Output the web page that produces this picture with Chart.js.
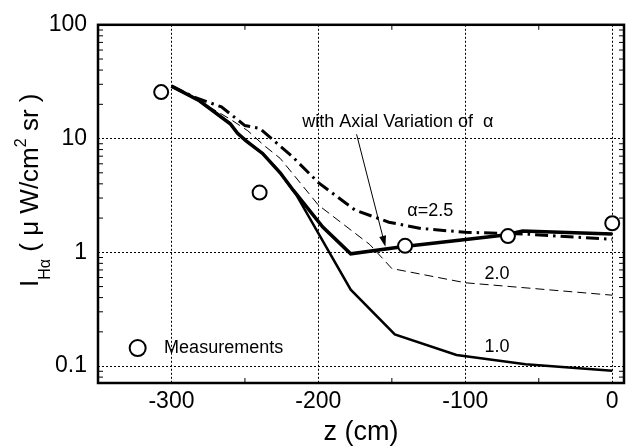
<!DOCTYPE html>
<html>
<head>
<meta charset="utf-8">
<script src="https://cdn.jsdelivr.net/npm/chart.js@4.4.0/dist/chart.umd.min.js"></script>
<style>
html, body { margin: 0; padding: 0; background: #fff; }
</style>
</head>
<body>
<canvas id="cvHalpha" width="633" height="446"></canvas>
<script>
const cvHalpha = document.getElementById('cvHalpha')

// measured H-alpha intensity
const zMeas = [-307, -240, -141, -71, 0]
const iMeas = [25.6, 3.35, 1.14, 1.39, 1.8]

// calculation with axial variation of alpha
const zAxial = [-300, -281, -260, -255, -249, -238, -226, -217, -197, -178, -143, -73, -61, 0]
const iAxial = [28.9, 21.5, 13.5, 11.1, 9.5, 7.4, 5.0, 3.5, 1.67, 0.97, 1.12, 1.42, 1.54, 1.45]

// fixed alpha = 1.0, 2.0, 2.5
const zA10 = [-300, -281, -260, -255, -249, -238, -226, -215, -178, -148, -106, -59, 0]
const iA10 = [28.9, 21.5, 13.5, 11.1, 9.5, 7.4, 5.0, 3.2, 0.47, 0.19, 0.125, 0.104, 0.091]
const zA20 = [-300, -280, -260, -248, -237, -226, -200, -165, -150, -100, 0]
const iA20 = [28.9, 21, 14.8, 11.7, 8.7, 6.7, 2.6, 1.17, 0.72, 0.54, 0.42]
const zA25 = [-300, -284, -266, -250, -240, -230, -218, -200, -175, -152, -130, -100, -60, 0]
const iA25 = [28.9, 23, 19, 13, 12.3, 9.5, 7.0, 4.1, 2.35, 1.84, 1.62, 1.5, 1.45, 1.3]

const xTicks = [-300, -200, -100, 0]
const xMinor = [-250, -150, -50]
const yTicks = [0.1, 1, 10, 100]
const yMinor = [0.08, 0.09, 0.2, 0.3, 0.4, 0.5, 0.6, 0.7, 0.8, 0.9, 2, 3, 4, 5, 6, 7, 8, 9, 20, 30, 40, 50, 60, 70, 80, 90]

const pts = (zs, vs) => zs.map((z, i) => ({ x: z, y: vs[i] }))
const FONT = '"Liberation Sans", Arial, Helvetica, sans-serif'

const decor = {
	id: 'decor',
	afterDraw(chart) {
		const { ctx, chartArea: a, scales: { x, y } } = chart
		ctx.save()
		ctx.strokeStyle = '#000'
		ctx.fillStyle = '#000'

		// inner minor ticks
		ctx.lineWidth = 1
		ctx.beginPath()
		yMinor.forEach((v) => {
			const py = y.getPixelForValue(v)
			ctx.moveTo(a.left, py); ctx.lineTo(a.left + 5, py)
			ctx.moveTo(a.right, py); ctx.lineTo(a.right - 5, py)
		})
		xMinor.forEach((v) => {
			const px = x.getPixelForValue(v)
			ctx.moveTo(px, a.top); ctx.lineTo(px, a.top + 5)
			ctx.moveTo(px, a.bottom); ctx.lineTo(px, a.bottom - 5)
		})
		ctx.stroke()

		// frame
		ctx.lineWidth = 2.5
		ctx.strokeRect(a.left, a.top, a.right - a.left, a.bottom - a.top)

		// curve labels
		ctx.font = '18px ' + FONT
		ctx.textAlign = 'left'
		ctx.textBaseline = 'middle'
		const notes = [
			['with Axial Variation of  α', -211, 14.1],
			['α=2.5', -139.5, 2.3],
			['2.0', -87, 0.64],
			['1.0', -87, 0.147],
		]
		notes.forEach(([t, z, v]) => ctx.fillText(t, x.getPixelForValue(z), y.getPixelForValue(v)))

		// arrow
		const x0 = x.getPixelForValue(-174), y0 = y.getPixelForValue(10.9)
		const x1 = x.getPixelForValue(-154.4), y1 = y.getPixelForValue(1.12)
		const ang = Math.atan2(y1 - y0, x1 - x0)
		ctx.lineWidth = 1
		ctx.beginPath()
		ctx.moveTo(x0, y0)
		ctx.lineTo(x1 - 9 * Math.cos(ang), y1 - 9 * Math.sin(ang))
		ctx.stroke()
		ctx.beginPath()
		ctx.moveTo(x1, y1)
		ctx.lineTo(x1 - 11 * Math.cos(ang) + 3.5 * Math.sin(ang), y1 - 11 * Math.sin(ang) - 3.5 * Math.cos(ang))
		ctx.lineTo(x1 - 11 * Math.cos(ang) - 3.5 * Math.sin(ang), y1 - 11 * Math.sin(ang) + 3.5 * Math.cos(ang))
		ctx.closePath()
		ctx.fill()

		// legend
		const lx = x.getPixelForValue(-323), ly = y.getPixelForValue(0.144)
		ctx.lineWidth = 2
		ctx.beginPath()
		ctx.arc(lx, ly, 8, 0, Math.PI * 2)
		ctx.fillStyle = '#fff'
		ctx.fill()
		ctx.stroke()
		ctx.fillStyle = '#000'
		ctx.fillText('Measurements', x.getPixelForValue(-305), ly)

		// y axis title, rotated, with sub/superscripts
		ctx.translate(38, 287)
		ctx.rotate(-Math.PI / 2)
		ctx.textBaseline = 'alphabetic'
		let px = 0
		const put = (t, size, dy) => {
			ctx.font = size + 'px ' + FONT
			ctx.fillText(t, px, dy)
			px += ctx.measureText(t).width
		}
		put('I', 26, 0)
		put('Hα', 16, 12)
		put(' ( μ W/cm', 26, 0)
		put('2', 16, -12)
		put(' sr )', 26, 0)
		ctx.restore()
	},
}

new Chart(cvHalpha, {
	type: 'scatter',
	data: {
		datasets: [
			{
				data: pts(zMeas, iMeas),
				showLine: false,
				pointRadius: 7,
				pointBorderWidth: 2,
				pointBackgroundColor: '#fff',
				pointBorderColor: '#000',
			},
			{
				data: pts(zAxial, iAxial),
				showLine: true,
				borderColor: '#000',
				borderWidth: 3.5,
				pointRadius: 0,
			},
			{
				data: pts(zA10, iA10),
				showLine: true,
				borderColor: '#000',
				borderWidth: 2.5,
				pointRadius: 0,
			},
			{
				data: pts(zA20, iA20),
				showLine: true,
				borderColor: '#000',
				borderWidth: 1,
				borderDash: [9, 5],
				pointRadius: 0,
			},
			{
				data: pts(zA25, iA25),
				showLine: true,
				borderColor: '#000',
				borderWidth: 3,
				borderDash: [13, 5, 2.5, 5],
				pointRadius: 0,
			},
		],
	},
	options: {
		responsive: false,
		animation: false,
		devicePixelRatio: 1,
		layout: { padding: { top: 19, right: 8, left: 0, bottom: 0 } },
		plugins: {
			legend: { display: false },
			tooltip: { enabled: false },
		},
		scales: {
			x: {
				type: 'linear',
				min: -350,
				max: 8,
				afterBuildTicks: (s) => { s.ticks = xTicks.map((v) => ({ value: v })) },
				afterFit: (s) => { s.height = 63 },
				ticks: { color: '#000', font: { family: FONT, size: 23 }, padding: 5, maxRotation: 0, autoSkip: false },
				grid: { color: '#000', lineWidth: 1, drawTicks: false },
				border: { display: false, dash: [2, 2] },
				title: { display: true, text: 'z (cm)', color: '#000', font: { family: FONT, size: 27, lineHeight: 1 }, padding: 0 },
			},
			y: {
				type: 'logarithmic',
				min: 0.071,
				max: 100,
				afterBuildTicks: (s) => { s.ticks = yTicks.map((v) => ({ value: v })) },
				afterFit: (s) => { s.width = 98 },
				ticks: { color: '#000', font: { family: FONT, size: 23 }, padding: 11, callback: (v) => String(v) },
				grid: { color: '#000', lineWidth: 1, drawTicks: false },
				border: { display: false, dash: [2, 2] },
			},
		},
	},
	plugins: [decor],
})
</script>
</body>
</html>
